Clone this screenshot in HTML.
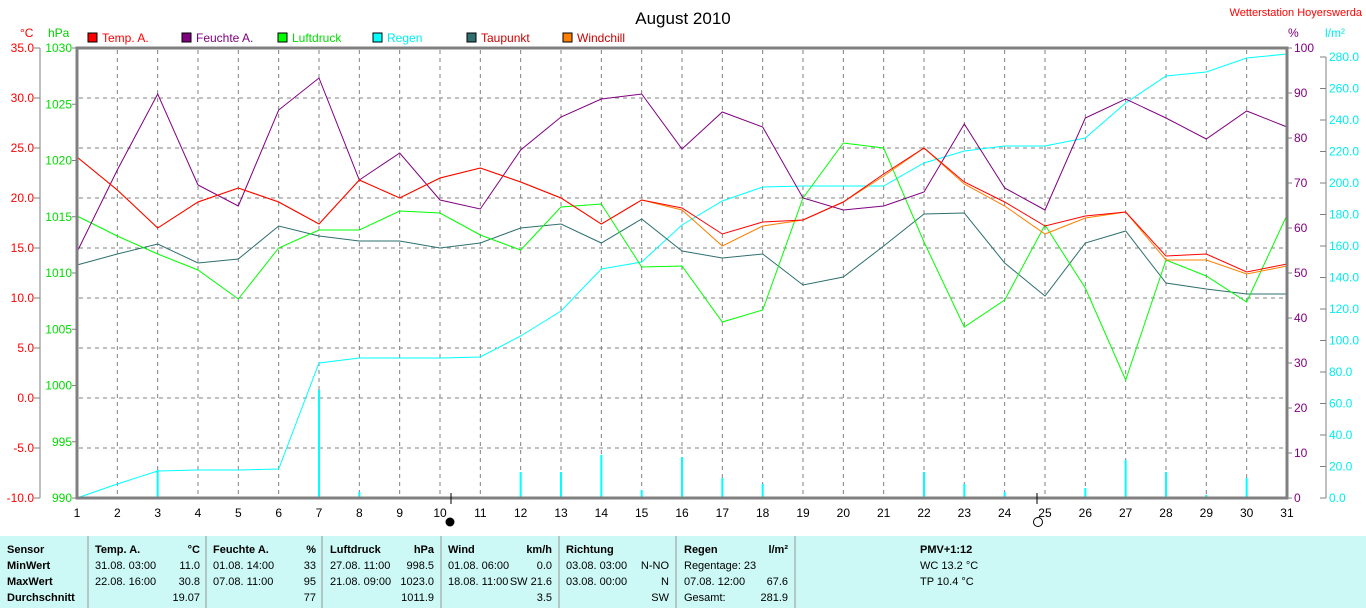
<!DOCTYPE html>
<html><head><meta charset="utf-8"><style>
body{margin:0;background:#fff;width:1366px;height:608px;overflow:hidden;font-family:"Liberation Sans",sans-serif}
svg{position:absolute;left:0;top:0}
</style></head><body>
<svg width="1366" height="608" xmlns="http://www.w3.org/2000/svg" font-family="Liberation Sans, sans-serif" font-size="11">
<rect x="0" y="536" width="1366" height="72" fill="#ccf8f5"/>
<g stroke="#999" stroke-width="1">
<line x1="88" y1="536" x2="88" y2="608"/><line x1="206" y1="536" x2="206" y2="608"/><line x1="322" y1="536" x2="322" y2="608"/><line x1="441" y1="536" x2="441" y2="608"/><line x1="559" y1="536" x2="559" y2="608"/><line x1="676" y1="536" x2="676" y2="608"/><line x1="795" y1="536" x2="795" y2="608"/>
</g>
<text x="683" y="24" font-size="17" text-anchor="middle">August 2010</text>
<text x="1362" y="16" fill="#f00" font-size="11" text-anchor="end">Wetterstation Hoyerswerda</text>
<text x="20" y="37" fill="#f00" font-size="12">°C</text>
<text x="48" y="37" fill="#0c0" font-size="12">hPa</text>
<text x="1288" y="37" fill="#800080" font-size="12">%</text>
<text x="1325" y="37" fill="#0ee" font-size="12">l/m²</text>
<g font-size="12">
<rect x="88" y="33" width="9" height="9" fill="#f00" stroke="#000"/><text x="102" y="42" fill="#f00">Temp. A.</text>
<rect x="182" y="33" width="9" height="9" fill="#800080" stroke="#000"/><text x="196" y="42" fill="#800080">Feuchte A.</text>
<rect x="278" y="33" width="9" height="9" fill="#0f0" stroke="#000"/><text x="292" y="42" fill="#0d0">Luftdruck</text>
<rect x="373" y="33" width="9" height="9" fill="#0ff" stroke="#000"/><text x="387" y="42" fill="#0ee">Regen</text>
<rect x="467" y="33" width="9" height="9" fill="#2f6f6f" stroke="#000"/><text x="481" y="42" fill="#c00">Taupunkt</text>
<rect x="563" y="33" width="9" height="9" fill="#ff8000" stroke="#000"/><text x="577" y="42" fill="#c00">Windchill</text>
</g>
<g stroke="#808080" stroke-dasharray="4,4" stroke-width="1" id="grid"></g>
<g id="lines"></g>
<rect x="77" y="48" width="1210" height="450" fill="none" stroke="#808080" stroke-width="3"/>
<line x1="40" y1="48" x2="40" y2="498" stroke="#808080"/>
<line x1="1326" y1="57" x2="1326" y2="498" stroke="#808080"/>
<g id="ax" font-size="12"></g>
<line x1="451" y1="493" x2="451" y2="504" stroke="#000"/>
<line x1="1037" y1="493" x2="1037" y2="504" stroke="#000"/>
<circle cx="450" cy="522" r="4.5" fill="#000"/>
<circle cx="1038" cy="522" r="4.5" fill="none" stroke="#000"/>
<g font-size="11">
<g font-weight="bold"><text x="7" y="553">Sensor</text><text x="7" y="569">MinWert</text><text x="7" y="585">MaxWert</text><text x="7" y="601">Durchschnitt</text>
<text x="95" y="553">Temp. A.</text><text x="200" y="553" text-anchor="end">°C</text>
<text x="213" y="553">Feuchte A.</text><text x="316" y="553" text-anchor="end">%</text>
<text x="330" y="553">Luftdruck</text><text x="434" y="553" text-anchor="end">hPa</text>
<text x="448" y="553">Wind</text><text x="552" y="553" text-anchor="end">km/h</text>
<text x="566" y="553">Richtung</text>
<text x="684" y="553">Regen</text><text x="788" y="553" text-anchor="end">l/m²</text>
<text x="920" y="553">PMV+1:12</text></g>
<text x="95" y="569">31.08.  03:00</text><text x="200" y="569" text-anchor="end">11.0</text>
<text x="95" y="585">22.08.  16:00</text><text x="200" y="585" text-anchor="end">30.8</text>
<text x="200" y="601" text-anchor="end">19.07</text>
<text x="213" y="569">01.08.  14:00</text><text x="316" y="569" text-anchor="end">33</text>
<text x="213" y="585">07.08.  11:00</text><text x="316" y="585" text-anchor="end">95</text>
<text x="316" y="601" text-anchor="end">77</text>
<text x="330" y="569">27.08.  11:00</text><text x="434" y="569" text-anchor="end">998.5</text>
<text x="330" y="585">21.08.  09:00</text><text x="434" y="585" text-anchor="end">1023.0</text>
<text x="434" y="601" text-anchor="end">1011.9</text>
<text x="448" y="569">01.08.  06:00</text><text x="552" y="569" text-anchor="end">0.0</text>
<text x="448" y="585">18.08.  11:00</text><text x="552" y="585" text-anchor="end">SW 21.6</text>
<text x="552" y="601" text-anchor="end">3.5</text>
<text x="566" y="569">03.08.  03:00</text><text x="669" y="569" text-anchor="end">N-NO</text>
<text x="566" y="585">03.08.  00:00</text><text x="669" y="585" text-anchor="end">N</text>
<text x="669" y="601" text-anchor="end">SW</text>
<text x="684" y="569">Regentage: 23</text>
<text x="684" y="585">07.08.  12:00</text><text x="788" y="585" text-anchor="end">67.6</text>
<text x="684" y="601">Gesamt:</text><text x="788" y="601" text-anchor="end">281.9</text>
<text x="920" y="569">WC 13.2 °C</text><text x="920" y="585">TP 10.4 °C</text>
</g>
</svg>
<script>
const NS="http://www.w3.org/2000/svg";
function X(d){return 77+(d-1)*40.333;}
function el(p,t,a,txt){const e=document.createElementNS(NS,t);for(const k in a)e.setAttribute(k,a[k]);if(txt!==undefined)e.textContent=txt;document.getElementById(p).appendChild(e);return e;}
for(let d=2;d<=30;d++)el("grid","line",{x1:X(d),y1:50,x2:X(d),y2:496});
for(let i=1;i<9;i++){const y=48+i*50;el("grid","line",{x1:79,y1:y,x2:1285,y2:y});}
for(let i=0;i<=9;i++){const y=48+i*50;
 el("ax","text",{x:34,y:y+4,fill:"#f00","text-anchor":"end"},(35-i*5).toFixed(1));
 el("ax","line",{x1:34,y1:y,x2:40,y2:y,stroke:"#808080"});}
for(let i=0;i<=8;i++){const y=48+i*56.25;
 el("ax","text",{x:72,y:y+4,fill:"#0d0","text-anchor":"end"},String(1030-i*5));
 el("ax","line",{x1:72,y1:y,x2:77,y2:y,stroke:"#808080"});}
for(let i=0;i<=10;i++){const y=48+i*45;
 el("ax","line",{x1:1287,y1:y,x2:1292,y2:y,stroke:"#808080"});
 el("ax","text",{x:1294,y:y+4,fill:"#800080"},String(100-i*10));}
for(let i=0;i<=14;i++){const y=498-i*31.5;
 el("ax","line",{x1:1320,y1:y,x2:1326,y2:y,stroke:"#808080"});
 el("ax","text",{x:1329,y:y+4,fill:"#0ee"},(i*20).toFixed(1));}
for(let d=1;d<=31;d++)el("ax","text",{x:X(d),y:517,"text-anchor":"middle"},String(d));
const bars={3:470,7:390,8:492,12:472,13:472,14:455,15:490,16:457,17:478,18:484,22:472,23:484,24:492,26:488,27:460,28:472,29:495,30:478,31:488};
for(const d in bars)el("lines","line",{x1:X(+d),y1:497,x2:X(+d),y2:bars[d],stroke:"#0ff","stroke-width":2});
function poly(a,c){el("lines","polyline",{points:a.map((y,i)=>X(i+1).toFixed(1)+","+y).join(" "),fill:"none",stroke:c,"stroke-width":1});}
poly([498,484,471,470,470,469,363,358,358,358,357,336,311,269,262,225,201,187,186,186,186,163,151,146,146,138,103,76,72,58,54],"#0ff");
poly([265,254,244,263,259,226,236,241,241,248,243,228,224,243,219,251,258,254,285,277,246,214,213,263,296,243,231,283,289,294,294],"#2f6f6f");
poly([216,236,254,270,299,248,230,230,211,213,235,250,207,204,267,266,322,310,198,143,148,242,327,300,225,288,380,260,276,302,215],"#0f0");
poly([252,170,94,185,206,110,78,180,153,200,209,150,117,99,94,149,112,127,198,210,206,192,124,188,210,118,99,118,139,111,127],"#800080");
poly([157,190,228,202,188,202,224,180,198,178,168,182,198,224,200,210,246,226,220,202,176,148,184,206,234,218,212,260,260,274,266],"#ff8000");
poly([157,190,228,202,188,202,224,180,198,178,168,182,198,224,200,208,234,222,220,202,174,148,182,202,226,216,212,256,254,272,264],"#f00");
</script>
</body></html>
